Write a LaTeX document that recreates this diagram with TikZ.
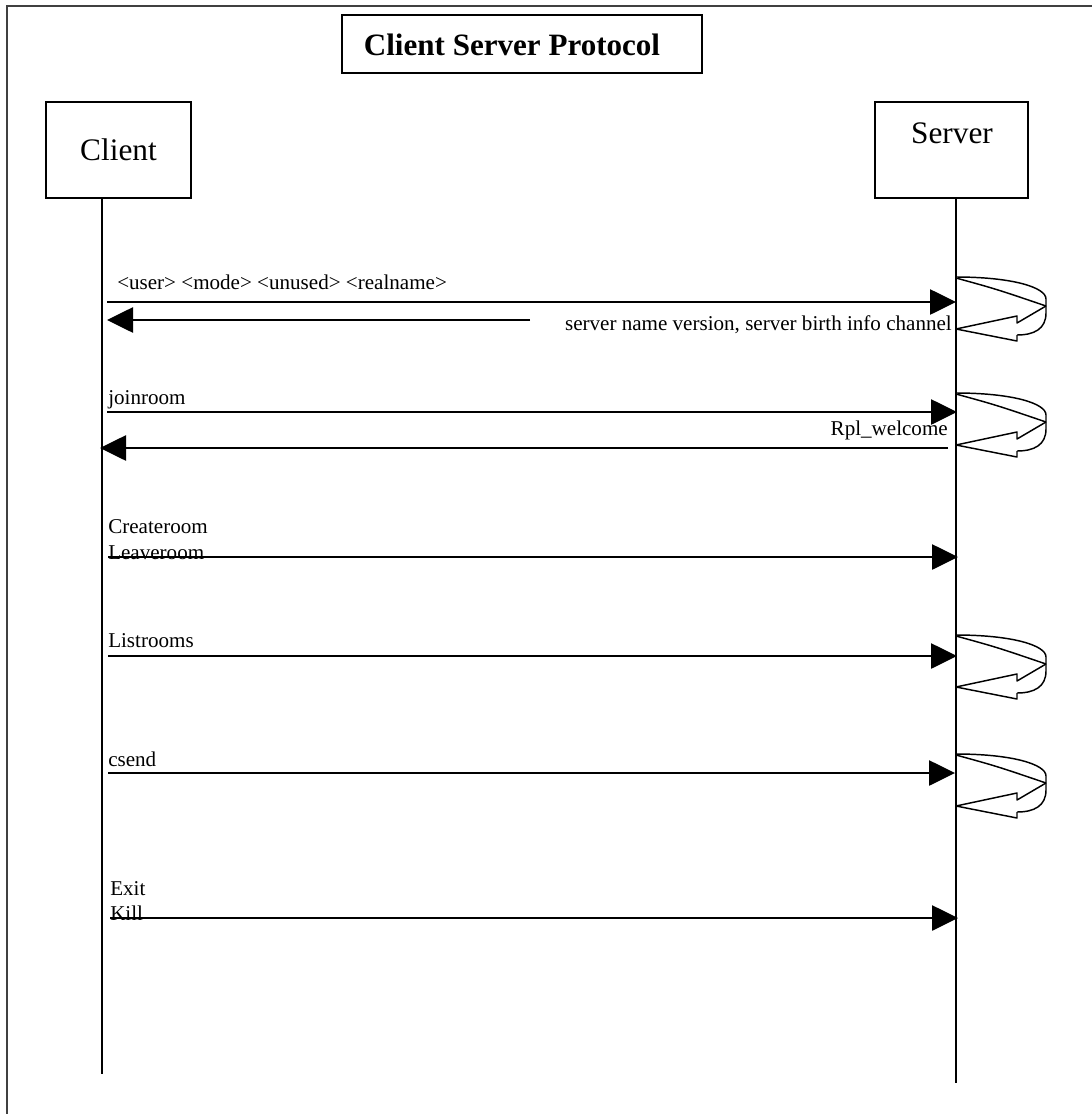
\documentclass[tikz,border=0pt]{standalone}
\usepackage{fontspec}
\setmainfont{Liberation Serif}
\usetikzlibrary{arrows.meta}
\tikzset{
  msg/.style={line width=1.1pt,-{Triangle[length=19.5pt,width=19pt]}},
  lifeline/.style={line width=1.1pt},
  box/.style={draw,line width=1.1pt,inner sep=0pt},
  lbl/.style={inner sep=0pt,font=\fontsize{15.8}{18}\selectfont},
  big/.style={inner sep=0pt,font=\fontsize{23.5}{27}\selectfont},
  loopline/.style={line width=1.1pt,line join=round}
}
\newcommand\myloop[1]{%
  \begin{scope}[shift={(956,#1)}]
    \draw[loopline] (0,0) .. controls (55,0) and (90,10) .. (90,22) -- (90,36)
      .. controls (90,52) and (78,58) .. (61,58);
    \draw[loopline] (0,1) .. controls (40,12) .. (90,29);
    \draw[loopline] (90,29) -- (61,46) -- (61,39) -- (0,52) -- (61,64) -- (61,58);
  \end{scope}}
\begin{document}
\begin{tikzpicture}[x=0.75pt,y=-0.75pt]
\useasboundingbox (0,0) rectangle (1092,1114);
% frame
\draw[line width=0.8pt,black!75] (7,1114) -- (7,6) -- (1092,6);
% title
\node[box,minimum width=270pt,minimum height=43.5pt] (title) at (522,44) {};
\node[inner sep=0pt,font=\fontsize{23.3}{26}\selectfont\bfseries] (titletext) at (512,45) {Client Server Protocol};
% actors
\node[box,minimum width=108.75pt,minimum height=72pt] (client) at (118.5,150) {};
\node[big] (clienttext) at (118.5,150) {Client};
\node[box,minimum width=114.75pt,minimum height=72pt] (server) at (951.5,150) {};
\node[big] (servertext) at (952,133) {Server};
% lifelines
\coordinate (ctop) at (102,198);
\coordinate (cbot) at (102,1074);
\coordinate (stop) at (956,198);
\coordinate (sbot) at (956,1083);
\draw[lifeline] (ctop) -- (cbot);
\draw[lifeline] (stop) -- (sbot);
% message 1
\coordinate (c1) at (107,302); \coordinate (s1) at (956,302);
\draw[msg] (c1) -- (s1);
\node[lbl,anchor=west] (l1) at (117,282) {<user> <mode> <unused> <realname>};
\coordinate (r1a) at (530,320); \coordinate (r1b) at (107,320);
\draw[msg] (r1a) -- (r1b);
\node[lbl,anchor=east] (l1b) at (952,325) {server name version, server birth info channel};
\myloop{277}
% message 2
\coordinate (c2) at (107,412); \coordinate (s2) at (957,412);
\draw[msg] (c2) -- (s2);
\node[lbl,anchor=west] (l2) at (108,400) {joinroom};
\coordinate (r2a) at (948,448); \coordinate (r2b) at (100,448);
\draw[msg] (r2a) -- (r2b);
\node[lbl,anchor=east] (l2b) at (948,430) {Rpl\_welcome};
\myloop{393}
% message 3
\coordinate (c3) at (108,557); \coordinate (s3) at (958,557);
\draw[msg] (c3) -- (s3);
\node[lbl,anchor=west] (l3a) at (108,527) {Createroom};
\node[lbl,anchor=west] (l3b) at (108,553) {Leaveroom};
% message 4
\coordinate (c4) at (108,656); \coordinate (s4) at (957,656);
\draw[msg] (c4) -- (s4);
\node[lbl,anchor=west] (l4) at (108,641) {Listrooms};
\myloop{635}
% message 5
\coordinate (c5) at (108,773); \coordinate (s5) at (955,773);
\draw[msg] (c5) -- (s5);
\node[lbl,anchor=west] (l5) at (108,759) {csend};
\myloop{754}
% message 6
\coordinate (c6) at (110,918); \coordinate (s6) at (958,918);
\draw[msg] (c6) -- (s6);
\node[lbl,anchor=west] (l6a) at (110,889) {Exit};
\node[lbl,anchor=west] (l6b) at (110,913) {Kill};
\end{tikzpicture}
\end{document}
